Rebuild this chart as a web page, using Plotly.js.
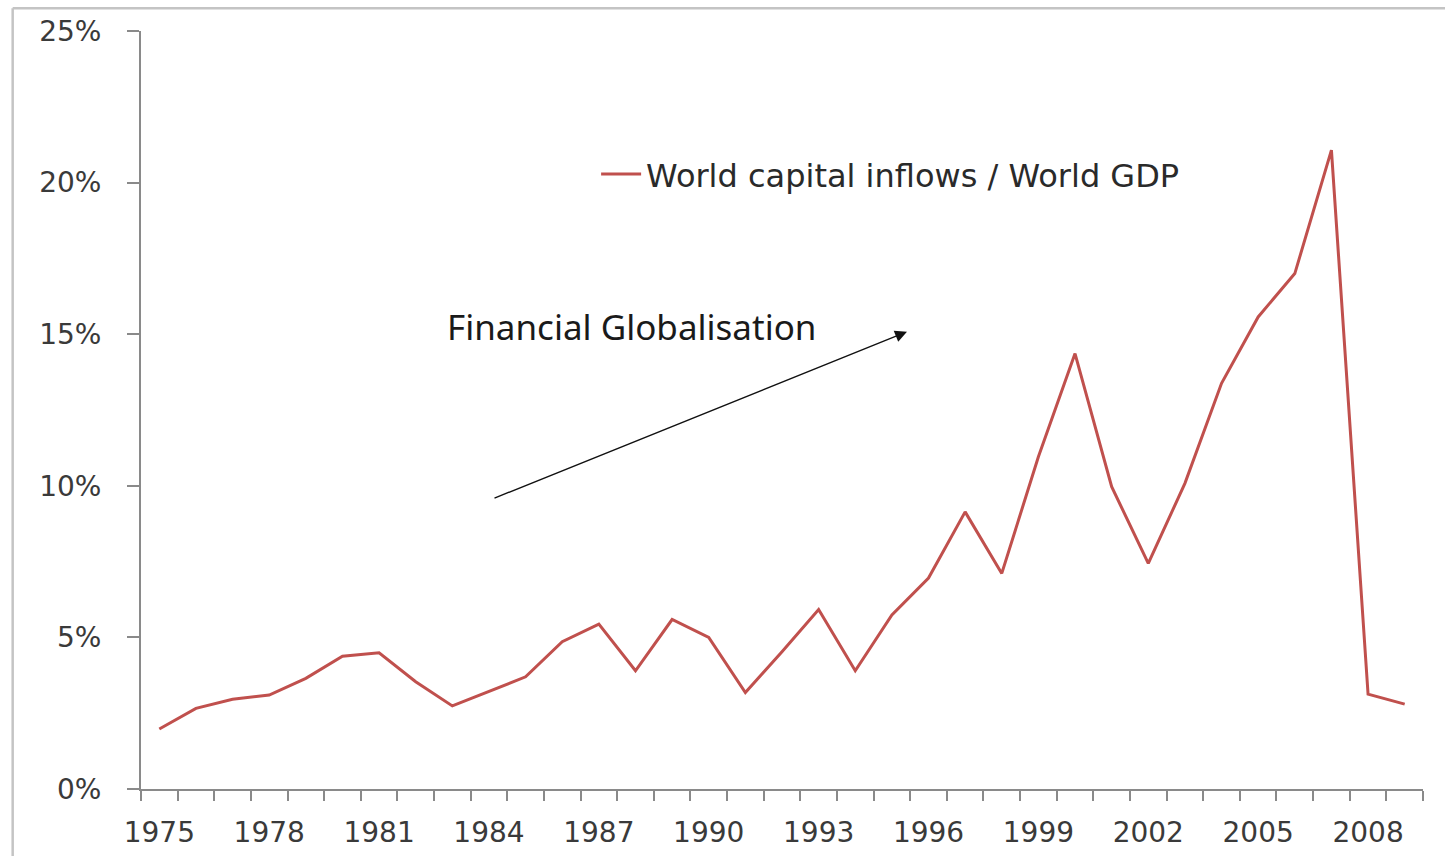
<!DOCTYPE html>
<html>
<head>
<meta charset="utf-8">
<script src="https://cdn.plot.ly/plotly-3.0.1.min.js"></script>
<style>
  html, body { margin: 0; padding: 0; background: #ffffff; }
  #chart { width: 1445px; height: 856px; }
</style>
</head>
<body>
<div id="chart"></div>
<script>
// Years (category axis)
const years = [1975,1976,1977,1978,1979,1980,1981,1982,1983,1984,1985,1986,1987,1988,1989,1990,1991,1992,
               1993,1994,1995,1996,1997,1998,1999,2000,2001,2002,2003,2004,2005,2006,2007,2008,2009];
// World capital inflows / World GDP, in percent
const inflowsPct = [1.98,2.66,2.96,3.10,3.65,4.38,4.49,3.54,2.74,3.21,3.70,4.86,5.44,3.90,5.59,5.00,3.18,4.53,
                    5.92,3.90,5.74,6.96,9.14,7.11,10.96,14.36,9.97,7.44,10.08,13.38,15.57,17.00,21.07,3.13,2.80];
// Tick labels
const xLabelYears = [1975,1978,1981,1984,1987,1990,1993,1996,1999,2002,2005,2008];
const yTickVals = [0,5,10,15,20,25];
const yTickText = ["0%","5%","10%","15%","20%","25%"];
const seriesName = "World capital inflows / World GDP";
const annotationText = "Financial Globalisation";

const catBoundaries = years.map(y => y - 0.5).concat([years[years.length-1] + 0.5]);

const trace = {
  x: years,
  y: inflowsPct,
  type: 'scatter',
  mode: 'lines',
  name: seriesName,
  line: { color: '#C0504D', width: 3 },
  hovertemplate: '%{x}: %{y:.1f}%<extra></extra>'
};

const tickFont = { family: 'DejaVu Sans, Verdana, sans-serif', size: 28, color: '#3a3a3a' };

const layout = {
  width: 1445,
  height: 856,
  paper_bgcolor: '#ffffff',
  plot_bgcolor: '#ffffff',
  margin: { l: 141, r: 22, t: 31, b: 67, pad: 0 },
  showlegend: true,
  legend: {
    x: 0.355, xanchor: 'left',
    y: 0.811, yanchor: 'middle',
    bgcolor: 'rgba(0,0,0,0)',
    font: { family: 'DejaVu Sans, Verdana, sans-serif', size: 32, color: '#2a2a2a' },
    itemwidth: 40
  },
  xaxis: {
    type: 'linear',
    range: [1974.5, 2009.5],
    tickmode: 'array',
    tickvals: xLabelYears,
    ticktext: xLabelYears.map(String),
    ticks: '',
    ticklabelstandoff: 17,
    tickfont: tickFont,
    showgrid: false,
    zeroline: false,
    showline: true,
    linecolor: '#8a8a8a',
    linewidth: 2,
    minor: {
      tickmode: 'array',
      tickvals: catBoundaries,
      ticks: 'outside',
      ticklen: 10,
      tickwidth: 2,
      tickcolor: '#8a8a8a',
      showgrid: false
    },
    fixedrange: true
  },
  yaxis: {
    range: [0, 25],
    tickmode: 'array',
    tickvals: yTickVals,
    ticktext: yTickText,
    ticks: 'outside',
    ticklen: 12,
    tickwidth: 2,
    tickcolor: '#8a8a8a',
    ticklabelstandoff: 20,
    tickfont: tickFont,
    showgrid: false,
    zeroline: false,
    showline: true,
    linecolor: '#8a8a8a',
    linewidth: 2,
    fixedrange: true
  },
  annotations: [
    {
      xref: 'paper', yref: 'paper',
      x: 0.2375, y: 0.6095,
      xanchor: 'left', yanchor: 'middle',
      text: annotationText,
      showarrow: false,
      font: { family: 'Noto Sans, Open Sans, sans-serif', size: 35, color: '#1a1a1a' }
    },
    {
      xref: 'paper', yref: 'paper',
      x: 0.5975, y: 0.6033,
      axref: 'pixel', ayref: 'pixel',
      ax: -414, ay: 167,
      text: '',
      showarrow: true,
      arrowhead: 2,
      arrowsize: 1.7,
      arrowwidth: 1.4,
      arrowcolor: '#111111'
    }
  ],
  shapes: [
    { type: 'line', xref: 'paper', yref: 'paper', x0: -0.1001, x1: 1.02, y0: 1.03, y1: 1.03,
      line: { color: '#c4c4c4', width: 2.5 } },
    { type: 'line', xref: 'paper', yref: 'paper', x0: -0.1001, x1: -0.1001, y0: 1.03, y1: -0.1,
      line: { color: '#c4c4c4', width: 2.5 } }
  ]
};

Plotly.newPlot('chart', [trace], layout, { displayModeBar: false, staticPlot: false });
</script>
</body>
</html>
